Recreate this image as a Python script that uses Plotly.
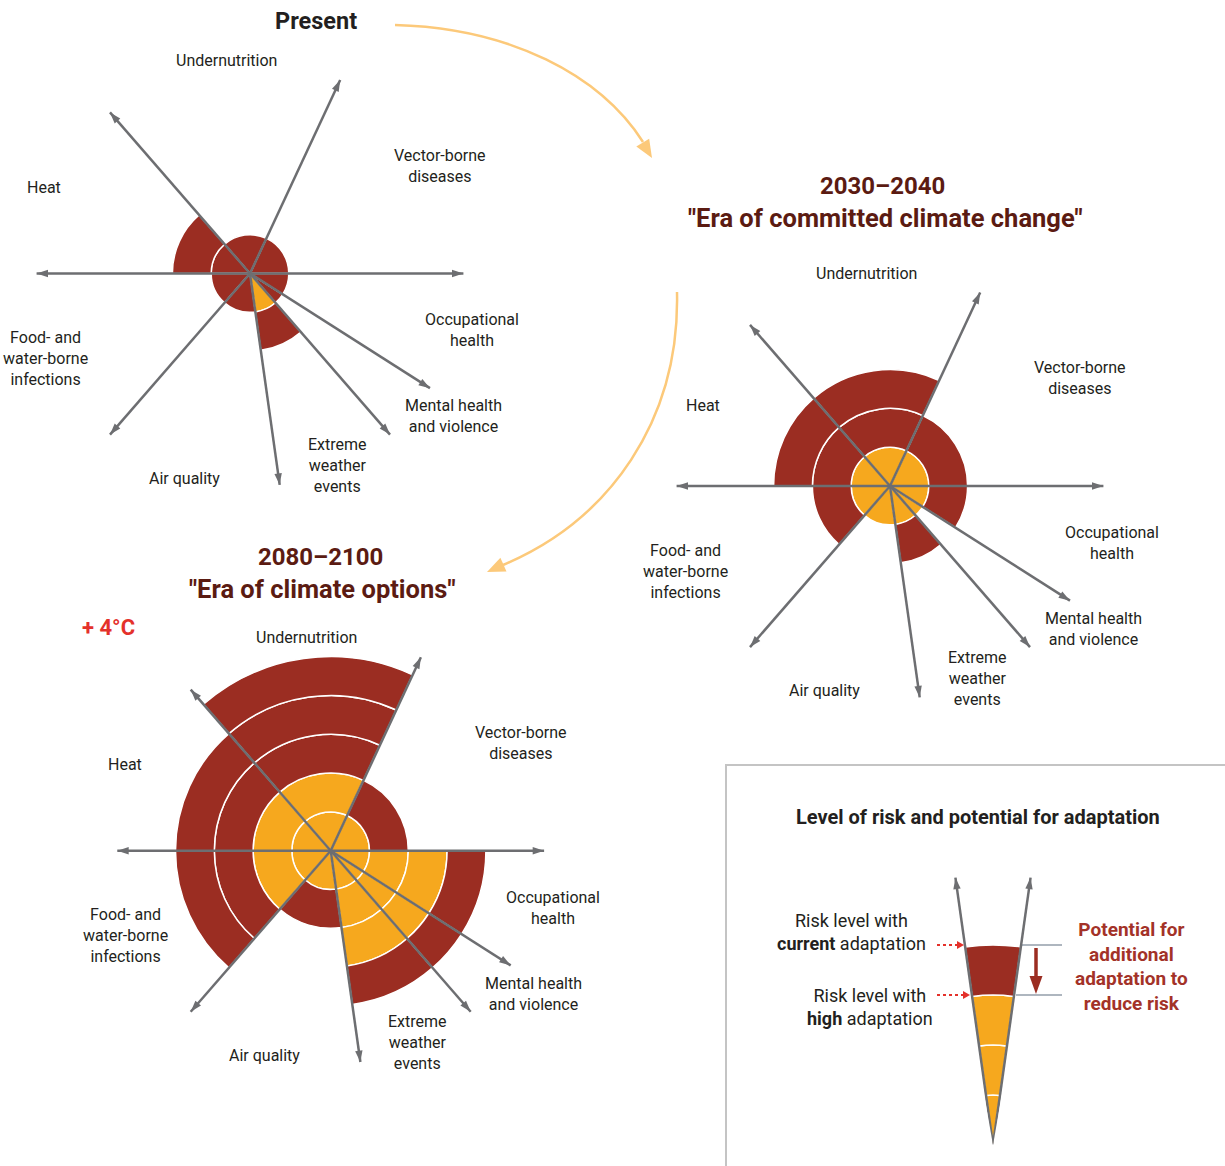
import math
import plotly.graph_objects as go

W, H = 1225, 1166

# ---- data -----------------------------------------------------------------
categories = ["Vector-borne diseases", "Undernutrition", "Heat",
              "Food- and water-borne infections", "Air quality",
              "Extreme weather events", "Mental health and violence",
              "Occupational health"]
category_labels = ["Vector-borne<br>diseases", "Undernutrition", "Heat",
                   "Food- and<br>water-borne<br>infections", "Air quality",
                   "Extreme<br>weather<br>events", "Mental health<br>and violence",
                   "Occupational<br>health"]
# direction of the arrows that bound each category sector (deg, ccw from east)
sector_edges = [0, 65, 131, 180, 229, 278, 311, 327.5, 360]

# risk level with current adaptation / with high adaptation
present_current = [1, 1, 2, 1, 1, 2, 1, 1]
present_high = [0, 0, 0, 0, 0, 1, 0, 0]
era2030_current = [2, 3, 3, 2, 1, 2, 1, 2]
era2030_high = [1, 1, 1, 1, 1, 1, 1, 1]
era2080_current = [2, 5, 4, 4, 2, 4, 4, 4]
era2080_high = [1, 2, 2, 2, 1, 3, 3, 3]

# the explanatory wedge in the key
key_edges = [82, 98]
key_current = [4]
key_high = [3]

# ---- style ----------------------------------------------------------------
DARK_RED = "#9B2D22"
ORANGE = "#F6A81E"
GREY = "#6D6E71"
TEXT = "#231F20"
MAROON = "#5B1B12"
FONT = "Roboto"
R_MAX = 5.8          # radial range of every rose
ARROW_R = 5.6        # length of the axis arrows
ROSE_R = 38.8 * R_MAX  # px radius of a rose subplot (38.8 px per level)


def add_rose(fig, subplot, edges, current, high, arrow_r=ARROW_R):
    mids = [(a + b) / 2 for a, b in zip(edges[:-1], edges[1:])]
    widths = [b - a for a, b in zip(edges[:-1], edges[1:])]
    for colour, is_high in ((ORANGE, True), (DARK_RED, False)):
        th, wd, base = [], [], []
        for m, w, c, h in zip(mids, widths, current, high):
            for k in range(c):
                if (k < h) == is_high:
                    th.append(m)
                    wd.append(w)
                    base.append(k)
        fig.add_trace(go.Barpolar(
            r=[1] * len(th), theta=th, width=wd, base=base, subplot=subplot,
            marker=dict(color=colour, line=dict(color="white", width=1.5)),
            hoverinfo="skip", showlegend=False))
    angles = [a for a in edges if a < 360]
    r, t = [], []
    for a in angles:
        r += [0, arrow_r - 0.1, None]
        t += [a, a, None]
    fig.add_trace(go.Scatterpolar(r=r, theta=t, mode="lines", subplot=subplot,
                                  line=dict(color=GREY, width=2.5),
                                  cliponaxis=False, hoverinfo="skip", showlegend=False))
    fig.add_trace(go.Scatterpolar(
        r=[arrow_r - 0.1] * len(angles), theta=angles, mode="markers", subplot=subplot,
        marker=dict(symbol="arrow", size=12, color=GREY, angle=[90 - a for a in angles]),
        cliponaxis=False, hoverinfo="skip", showlegend=False))


def polar_layout(cx, cy, rx, ry, sector=None, rmax=R_MAX):
    d = dict(domain=dict(x=[(cx - rx) / W, (cx + rx) / W],
                         y=[1 - (cy + ry) / H, 1 - (cy - ry) / H]),
             radialaxis=dict(range=[0, rmax], visible=False),
             angularaxis=dict(visible=False, rotation=0, direction="counterclockwise"),
             bgcolor="rgba(0,0,0,0)", barmode="overlay", bargap=0)
    if sector:
        d["sector"] = sector
    return d


def P(x, y):
    return f"{x / W:.5f},{1 - y / H:.5f}"


def tri(tip, tail, length, width):
    dx, dy = tip[0] - tail[0], tip[1] - tail[1]
    n = math.hypot(dx, dy)
    ux, uy = dx / n, dy / n
    bx, by = tip[0] - ux * length, tip[1] - uy * length
    px, py = -uy * width / 2, ux * width / 2
    return f"M{P(*tip)} L{P(bx + px, by + py)} L{P(bx - px, by - py)} Z"


def ann(x, y, text, size=16, color=TEXT, bold=False, xanchor="center"):
    if bold:
        text = "<b>" + text.replace("<br>", "</b><br><b>") + "</b>"
    return dict(x=x / W, y=1 - y / H, xref="paper", yref="paper", text=text,
                showarrow=False, xanchor=xanchor, yanchor="middle", align="center",
                font=dict(family=FONT, size=size, color=color))


fig = go.Figure()

centres = {"polar": (250, 273.5), "polar2": (890, 486), "polar3": (330.7, 850.7)}
add_rose(fig, "polar", sector_edges, present_current, present_high)
add_rose(fig, "polar2", sector_edges, era2030_current, era2030_high)
add_rose(fig, "polar3", sector_edges, era2080_current, era2080_high)
add_rose(fig, "polar4", key_edges, key_current, key_high, arrow_r=5.5)

# label offsets from the centre of each rose (px, y downwards)
label_offsets = [(190, -108), (-24, -213), (-206, -86), (-205, 85),
                 (-66, 205), (87, 192), (203, 143), (222, 57)]

annotations = []
for sp, (cx, cy) in centres.items():
    for i, lab in enumerate(category_labels):
        dx, dy = label_offsets[i]
        if sp == "polar2" and categories[i] == "Heat":
            dx, dy = -187, -81
        annotations.append(ann(cx + dx, cy + dy, lab))

annotations += [
    ann(316, 21, "Present", 23.5, TEXT, True),
    ann(882, 186, "2030–2040", 24, MAROON, True),
    ann(885, 218, "\"Era of committed climate change\"", 25.5, MAROON, True),
    ann(320, 557, "2080–2100", 24, MAROON, True),
    ann(322, 589, "\"Era of climate options\"", 25.5, MAROON, True),
    ann(108, 627, "+ 4°C", 22, "#E4312B", True),
    ann(978, 817, "Level of risk and potential for adaptation", 20, TEXT, True),
    ann(851, 932, "Risk level with<br><b>current</b> adaptation", 18),
    ann(870, 1007, "Risk level with<br><b>high</b> adaptation", 18),
    ann(1131, 966, "Potential for<br>additional<br>adaptation to<br>reduce risk", 19, "#A33228", True),
]

LIGHT_ORANGE = "#FCC97A"
shapes = [
    dict(type="rect", xref="paper", yref="paper", x0=726 / W, x1=1240 / W,
         y0=1 - 1180 / H, y1=1 - 765 / H, line=dict(color="#C4C4C4", width=2),
         fillcolor="white", layer="below"),
    dict(type="path", xref="paper", yref="paper",
         path=f"M{P(395, 25)} C{P(510, 28)} {P(600, 75)} {P(643, 142)}",
         line=dict(color=LIGHT_ORANGE, width=2.5)),
    dict(type="path", xref="paper", yref="paper", path=tri((652, 158), (640, 138), 18, 15),
         fillcolor=LIGHT_ORANGE, line=dict(width=0)),
    dict(type="path", xref="paper", yref="paper",
         path=f"M{P(677, 292)} C{P(680, 420)} {P(610, 520)} {P(503, 565)}",
         line=dict(color=LIGHT_ORANGE, width=2.5)),
    dict(type="path", xref="paper", yref="paper", path=tri((487, 572), (505, 564), 18, 15),
         fillcolor=LIGHT_ORANGE, line=dict(width=0)),
    # key: pointers to the two risk levels
    dict(type="line", xref="paper", yref="paper", x0=937 / W, x1=957 / W,
         y0=1 - 945 / H, y1=1 - 945 / H, line=dict(color="#E4312B", width=2, dash="dot")),
    dict(type="path", xref="paper", yref="paper", path=tri((964, 945), (950, 945), 7, 8),
         fillcolor="#E4312B", line=dict(width=0)),
    dict(type="line", xref="paper", yref="paper", x0=937 / W, x1=963 / W,
         y0=1 - 995 / H, y1=1 - 995 / H, line=dict(color="#E4312B", width=2, dash="dot")),
    dict(type="path", xref="paper", yref="paper", path=tri((970, 995), (956, 995), 7, 8),
         fillcolor="#E4312B", line=dict(width=0)),
    dict(type="line", xref="paper", yref="paper", x0=1022 / W, x1=1062 / W,
         y0=1 - 945 / H, y1=1 - 945 / H, line=dict(color="#5F6F80", width=1.2)),
    dict(type="line", xref="paper", yref="paper", x0=1016 / W, x1=1062 / W,
         y0=1 - 995 / H, y1=1 - 995 / H, line=dict(color="#5F6F80", width=1.2)),
    dict(type="line", xref="paper", yref="paper", x0=1036 / W, x1=1036 / W,
         y0=1 - 948 / H, y1=1 - 978 / H, line=dict(color=DARK_RED, width=3.5)),
    dict(type="path", xref="paper", yref="paper", path=tri((1036, 994), (1036, 970), 18, 13),
         fillcolor=DARK_RED, line=dict(width=0)),
]

fig.update_layout(
    width=W, height=H, margin=dict(l=0, r=0, t=0, b=0),
    paper_bgcolor="white", plot_bgcolor="white", showlegend=False,
    polar=polar_layout(*centres["polar"], ROSE_R, ROSE_R),
    polar2=polar_layout(*centres["polar2"], ROSE_R, ROSE_R),
    polar3=polar_layout(*centres["polar3"], ROSE_R, ROSE_R),
    polar4=polar_layout(993, 1005, 60, 140, sector=[80, 100], rmax=5.6),
    annotations=annotations, shapes=shapes,
)

fig.write_html("out.html", config={"displayModeBar": False},
               post_script="document.body.style.margin='0px';")
